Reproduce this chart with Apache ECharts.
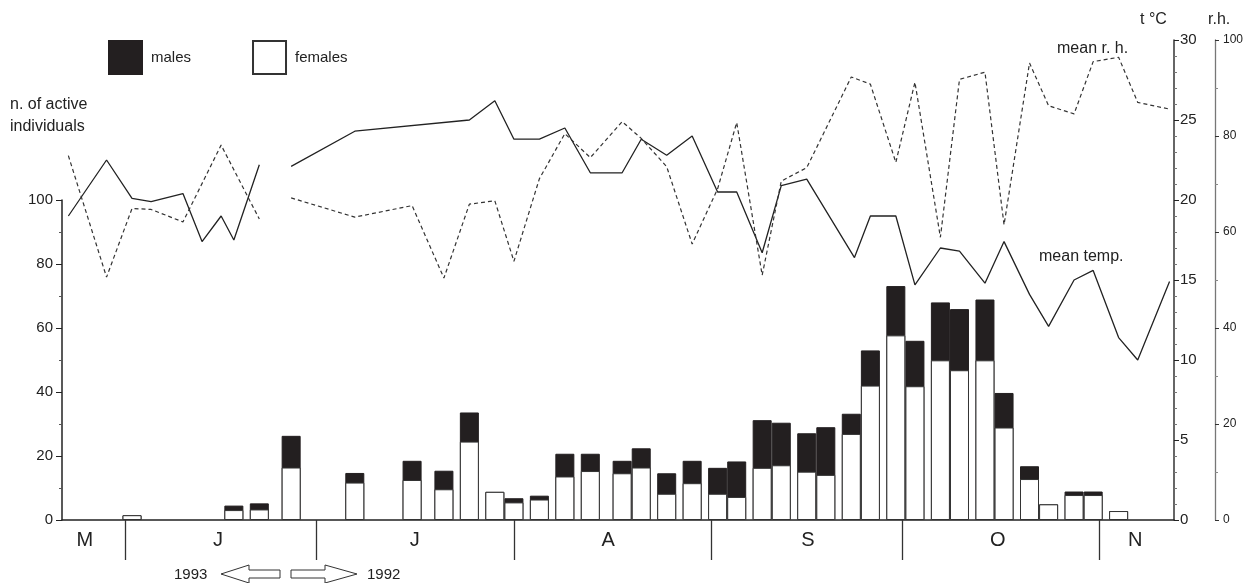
<!DOCTYPE html>
<html>
<head>
<meta charset="utf-8">
<script src="https://cdn.jsdelivr.net/npm/echarts@6/dist/echarts.min.js"></script>
<style>
html,body{margin:0;padding:0;background:#fff;}
#chart{width:1249px;height:583px;}
</style>
</head>
<body>
<div id="chart"></div>
<script>
// x values: days counted from 1 June (negative = late May)
const barDays = [1,17,21,26,36,45,50,54,58,61,65,69,73,78,81,85,89,93,96,100,103,107,110,114,117,121,124,128,131,135,138,142,145,149,152,156];
const females = [1.5,3.1,3.3,16.4,11.7,12.5,9.6,24.5,8.8,5.5,6.4,13.6,15.3,14.6,16.4,8.2,11.5,8.2,7.2,16.3,17.1,15.1,14.1,26.9,42.0,57.7,41.8,49.9,46.8,49.9,28.9,12.8,4.9,7.8,7.8,2.8];
const males   = [0,1.4,1.9,9.9,3.0,6.0,5.8,9.1,0,1.3,1.2,7.1,5.4,3.9,6.0,6.4,7.0,8.1,11.1,14.9,13.3,12.0,14.9,6.3,11.0,15.4,14.2,18.1,19.1,19.0,10.8,4.0,0,1.1,1.1,0];

const tempDays1993 = [-9,-3,1,4,9,12,15,17,21];
const temp1993     = [19.0,22.5,20.1,19.9,20.4,17.4,19.0,17.5,22.2];
const tempDays1992 = [26,36,54,58,61,65,69,73,78,81,85,89,93,96,100,103,107,114.5,117,121,124,128,131,135,138,142,145,149,152,156,159,164];
const temp1992     = [22.1,24.3,25.0,26.2,23.8,23.8,24.5,21.7,21.7,23.8,22.8,24.0,20.5,20.5,16.7,20.9,21.3,16.4,19.0,19.0,14.7,17.0,16.8,14.8,17.4,14.1,12.1,15.0,15.6,11.4,10.0,14.9];

const rhDays1993 = [-9,-3,1,4,9,15,21];
const rh1993     = [75.9,50.6,64.9,64.7,62.1,78.1,62.7];
const rhDays1992 = [26,36,45,50,54,58,61,65,69,73,78,81,85,89,93,96,100,103,107,114,117,121,124,128,131,135,138,142,145,149,152,156,159,164];
const rh1992     = [67.1,63.1,65.5,50.4,65.8,66.5,53.9,71.1,80.5,75.5,83.0,79.5,73.6,57.5,69.0,82.8,51.0,70.6,73.4,92.3,90.8,74.5,91.2,58.9,91.8,93.3,61.5,95.2,86.3,84.6,95.5,96.4,87.0,85.6];

const monthStarts = [0,30,61,92,122,153];
const monthMids   = [-6.4,14.5,45.4,75.8,107.2,137,158.6];
const monthLabels = ['M','J','J','A','S','O','N'];
const gapDay = 23.5;

const FONT = 'Liberation Sans, Arial, Helvetica, sans-serif';
const X_MIN = -10, X_MAX = 164.7;

function pairs(xs, ys){ return xs.map((x,i)=>[x, ys[i]]); }
// males are drawn on top of females: the black column reaches females + males
const totals = females.map((f,i)=> +(f + males[i]).toFixed(2));

const chart = echarts.init(document.getElementById('chart'), null, {renderer:'canvas'});
chart.setOption({
  animation:false,
  backgroundColor:'#fff',
  textStyle:{fontFamily:FONT, color:'#222'},
  legend:{
    data:['males','females'],
    left:108, top:40, padding:0,
    itemWidth:33, itemHeight:33, itemGap:61,
    icon:'rect',
    textStyle:{fontSize:15, color:'#222', fontFamily:FONT, padding:[0,0,0,4]},
    selectedMode:false
  },
  grid:[
    {left:62, right:75, top:200, bottom:63},
    {left:62, right:75, top:40, bottom:63}
  ],
  xAxis:[
    {type:'value', gridIndex:0, min:X_MIN, max:X_MAX,
     axisLine:{show:true, onZero:false, lineStyle:{color:'#222', width:1.5}},
     axisTick:{show:true, customValues:monthStarts, length:40, lineStyle:{color:'#333', width:1.3}},
     axisLabel:{show:true, customValues:monthMids, fontSize:20, color:'#222', margin:10, fontFamily:FONT,
       formatter:function(v){
         let best=0, d=1e9;
         monthMids.forEach((m,i)=>{ if(Math.abs(m-v)<d){d=Math.abs(m-v);best=i;} });
         return monthLabels[best];
       }},
     splitLine:{show:false}},
    {type:'value', gridIndex:1, min:X_MIN, max:X_MAX, show:false}
  ],
  yAxis:[
    {type:'value', gridIndex:0, position:'left', min:0, max:100, interval:20,
     axisLine:{show:true, onZero:false, lineStyle:{color:'#222', width:1.5}},
     axisTick:{show:true, length:6, lineStyle:{color:'#222'}},
     minorTick:{show:true, splitNumber:2, length:3, lineStyle:{color:'#555'}},
     axisLabel:{fontSize:15, color:'#222', margin:9, fontFamily:FONT},
     splitLine:{show:false}},
    {type:'value', gridIndex:1, position:'right', min:0, max:30, interval:5,
     axisLine:{show:true, onZero:false, lineStyle:{color:'#333', width:1.5}},
     axisTick:{show:true, length:5, lineStyle:{color:'#222'}},
     minorTick:{show:true, splitNumber:5, length:3, lineStyle:{color:'#777'}},
     axisLabel:{fontSize:15, color:'#222', margin:6, fontFamily:FONT},
     splitLine:{show:false}},
    {type:'value', gridIndex:1, position:'right', offset:41, min:0, max:100, interval:20,
     axisLine:{show:true, onZero:false, lineStyle:{color:'#777', width:1.3}},
     axisTick:{show:true, length:4, lineStyle:{color:'#333'}},
     minorTick:{show:true, splitNumber:2, length:3, lineStyle:{color:'#888'}},
     axisLabel:{fontSize:12, color:'#222', margin:8, fontFamily:FONT},
     splitLine:{show:false}}
  ],
  series:[
    {name:'males', type:'bar', xAxisIndex:0, yAxisIndex:0, barWidth:19, barGap:'-100%', z:2,
     data:pairs(barDays, totals),
     itemStyle:{color:'#231f20', borderColor:'#231f20', borderWidth:1}},
    {name:'females', type:'bar', xAxisIndex:0, yAxisIndex:0, barWidth:19, barGap:'-100%', z:3,
     data:pairs(barDays, females),
     itemStyle:{color:'#ffffff', borderColor:'#333', borderWidth:1}},
    {name:'mean temp.', type:'line', xAxisIndex:1, yAxisIndex:1, showSymbol:false, symbol:'none',
     connectNulls:false, z:4,
     lineStyle:{color:'#222', width:1.3, type:'solid'},
     data:pairs(tempDays1993, temp1993).concat([[gapDay,'-']], pairs(tempDays1992, temp1992))},
    {name:'mean r. h.', type:'line', xAxisIndex:1, yAxisIndex:2, showSymbol:false, symbol:'none',
     connectNulls:false, z:4,
     lineStyle:{color:'#333', width:1.2, type:[4,3]},
     data:pairs(rhDays1993, rh1993).concat([[gapDay,'-']], pairs(rhDays1992, rh1992))}
  ],
  graphic:[
    {type:'text', x:10, y:105, style:{text:'n. of active', fontSize:16, fontFamily:FONT, fill:'#222', verticalAlign:'middle'}},
    {type:'text', x:10, y:127, style:{text:'individuals', fontSize:16, fontFamily:FONT, fill:'#222', verticalAlign:'middle'}},
    {type:'text', x:1057, y:49, style:{text:'mean r. h.', fontSize:16, fontFamily:FONT, fill:'#222', verticalAlign:'middle'}},
    {type:'text', x:1039, y:257, style:{text:'mean temp.', fontSize:16, fontFamily:FONT, fill:'#222', verticalAlign:'middle'}},
    {type:'text', x:1140, y:20, style:{text:'t °C', fontSize:16, fontFamily:FONT, fill:'#222', verticalAlign:'middle'}},
    {type:'text', x:1208, y:20, style:{text:'r.h.', fontSize:16, fontFamily:FONT, fill:'#222', verticalAlign:'middle'}},
    {type:'text', x:174, y:575, style:{text:'1993', fontSize:15, fontFamily:FONT, fill:'#222', verticalAlign:'middle'}},
    {type:'text', x:367, y:575, style:{text:'1992', fontSize:15, fontFamily:FONT, fill:'#222', verticalAlign:'middle'}},
    {type:'polygon', shape:{points:[[221,574],[249,565],[249,570],[280,570],[280,578],[249,578],[249,583]]},
     style:{fill:'#fff', stroke:'#333', lineWidth:1}},
    {type:'polygon', shape:{points:[[291,570],[325,570],[325,565],[357,574],[325,583],[325,578],[291,578]]},
     style:{fill:'#fff', stroke:'#333', lineWidth:1}}
  ]
});
</script>
</body>
</html>
